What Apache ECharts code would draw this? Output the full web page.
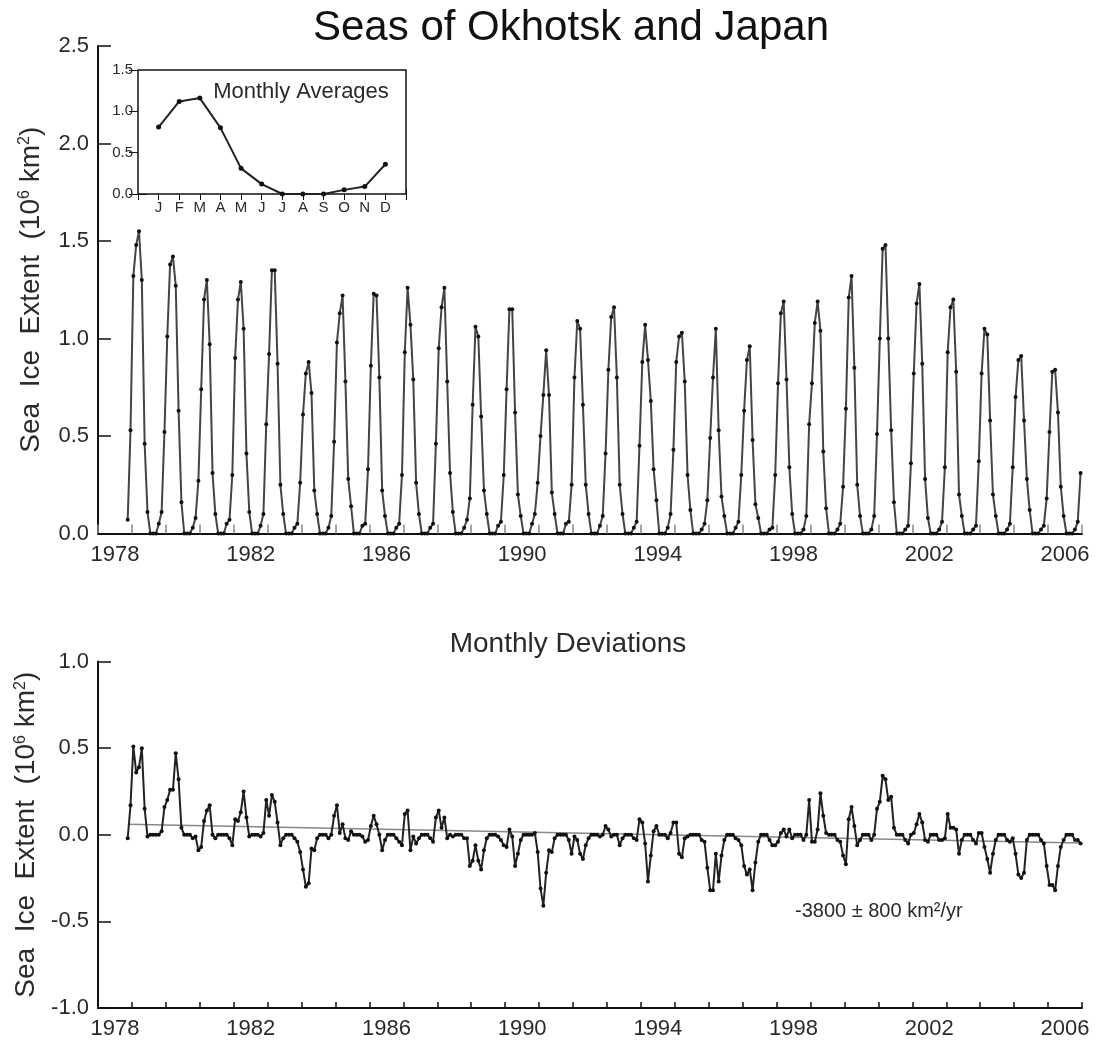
<!DOCTYPE html>
<html><head><meta charset="utf-8">
<script src="https://cdn.jsdelivr.net/npm/echarts@6/dist/echarts.min.js"></script>
<style>html,body{margin:0;padding:0;background:#fff}#c{width:1096px;height:1042px}</style>
</head><body><div id="c"></div>
<script>
// ---------- data ----------
const years = ['1978','1979','1980','1981','1982','1983','1984','1985','1986','1987','1988','1989','1990','1991','1992','1993','1994','1995','1996','1997','1998','1999','2000','2001','2002','2003','2004','2005','2006'];
const startYear = 1978, startMonth = 10; // first value = Nov 1978
const extent = [
 0.07,0.53,
 1.32,1.48,1.55,1.30,0.46,0.11,0,0,0,0.05,0.11,0.52,
 1.01,1.38,1.42,1.27,0.63,0.16,0,0,0,0.03,0.08,0.27,
 0.74,1.20,1.30,0.97,0.31,0.10,0,0,0,0.05,0.07,0.30,
 0.90,1.20,1.29,1.05,0.41,0.11,0,0,0,0.04,0.10,0.56,
 0.92,1.35,1.35,0.87,0.25,0.10,0,0,0,0.03,0.05,0.26,
 0.61,0.82,0.88,0.72,0.22,0.10,0,0,0,0.03,0.09,0.47,
 0.98,1.13,1.22,0.78,0.28,0.14,0,0,0,0.04,0.05,0.33,
 0.86,1.23,1.22,0.80,0.22,0.09,0,0,0,0.03,0.05,0.30,
 0.93,1.26,1.07,0.79,0.26,0.10,0,0,0,0.03,0.05,0.46,
 0.95,1.16,1.26,0.78,0.31,0.11,0,0,0,0.03,0.07,0.18,
 0.66,1.06,1.01,0.60,0.22,0.10,0,0,0,0.04,0.06,0.30,
 0.74,1.15,1.15,0.62,0.20,0.09,0,0,0,0.05,0.10,0.26,
 0.50,0.71,0.94,0.71,0.21,0.10,0,0,0,0.05,0.06,0.25,
 0.80,1.09,1.05,0.66,0.25,0.10,0,0,0,0.04,0.09,0.41,
 0.84,1.11,1.16,0.80,0.25,0.10,0,0,0,0.03,0.06,0.45,
 0.88,1.07,0.89,0.68,0.33,0.17,0,0,0,0.03,0.10,0.43,
 0.88,1.01,1.03,0.78,0.30,0.12,0,0,0,0.02,0.05,0.17,
 0.49,0.80,1.05,0.53,0.19,0.09,0,0,0,0.03,0.06,0.30,
 0.63,0.89,0.96,0.48,0.15,0.08,0,0,0,0.02,0.03,0.30,
 0.77,1.13,1.19,0.79,0.34,0.10,0,0,0,0.02,0.09,0.56,
 0.77,1.08,1.19,1.04,0.42,0.13,0,0,0,0.02,0.05,0.24,
 0.64,1.21,1.32,0.85,0.25,0.09,0,0,0,0.02,0.09,0.51,
 1.00,1.46,1.48,1.00,0.53,0.16,0,0,0,0.02,0.04,0.36,
 0.82,1.18,1.28,0.87,0.28,0.08,0,0,0,0.02,0.06,0.34,
 0.93,1.16,1.20,0.83,0.20,0.09,0,0,0,0.02,0.04,0.37,
 0.82,1.05,1.02,0.58,0.20,0.09,0,0,0,0.02,0.05,0.34,
 0.70,0.89,0.91,0.58,0.28,0.12,0,0,0,0.02,0.04,0.18,
 0.52,0.83,0.84,0.62,0.24,0.09,0,0,0,0.02,0.06,0.31
];
const deviation = [
 -0.02,0.17,
 0.51,0.36,0.39,0.50,0.15,-0.01,0,0,0,0.00,0.02,0.16,
 0.20,0.26,0.26,0.47,0.32,0.04,0,0,0,-0.02,-0.01,-0.09,
 -0.07,0.08,0.14,0.17,0.00,-0.02,0,0,0,0.00,-0.02,-0.06,
 0.09,0.08,0.13,0.25,0.10,-0.01,0,0,0,-0.01,0.01,0.20,
 0.11,0.23,0.19,0.07,-0.06,-0.02,0,0,0,-0.02,-0.04,-0.10,
 -0.20,-0.30,-0.28,-0.08,-0.09,-0.02,0,0,0,-0.02,0.00,0.11,
 0.17,0.01,0.06,-0.02,-0.03,0.02,0,0,0,-0.01,-0.04,-0.03,
 0.05,0.11,0.06,0.00,-0.09,-0.03,0,0,0,-0.02,-0.04,-0.06,
 0.12,0.14,-0.09,-0.01,-0.05,-0.02,0,0,0,-0.02,-0.04,0.10,
 0.14,0.04,0.10,-0.02,0.00,-0.01,0,0,0,-0.02,-0.02,-0.18,
 -0.15,-0.06,-0.15,-0.20,-0.09,-0.02,0,0,0,-0.01,-0.03,-0.06,
 -0.07,0.03,-0.01,-0.18,-0.11,-0.03,0,0,0,0.00,0.01,-0.10,
 -0.31,-0.41,-0.22,-0.09,-0.10,-0.02,0,0,0,0.00,-0.03,-0.11,
 -0.01,-0.03,-0.11,-0.14,-0.06,-0.02,0,0,0,-0.01,0.00,0.05,
 0.03,-0.01,0.00,0.00,-0.06,-0.02,0,0,0,-0.02,-0.03,0.09,
 0.07,-0.05,-0.27,-0.12,0.02,0.05,0,0,0,-0.02,0.01,0.07,
 0.07,-0.11,-0.13,-0.02,-0.01,0.00,0,0,0,-0.03,-0.04,-0.19,
 -0.32,-0.32,-0.11,-0.27,-0.12,-0.03,0,0,0,-0.02,-0.03,-0.06,
 -0.18,-0.23,-0.20,-0.32,-0.16,-0.04,0,0,0,-0.03,-0.06,-0.06,
 -0.04,0.01,0.03,-0.01,0.03,-0.02,0,0,0,-0.03,0.00,0.20,
 -0.04,-0.04,0.03,0.24,0.11,0.01,0,0,0,-0.03,-0.04,-0.12,
 -0.17,0.09,0.16,0.05,-0.06,-0.03,0,0,0,-0.03,0.00,0.15,
 0.19,0.34,0.32,0.20,0.22,0.04,0,0,0,-0.03,-0.05,0.00,
 0.01,0.06,0.12,0.07,-0.03,-0.04,0,0,0,-0.03,-0.03,-0.02,
 0.12,0.04,0.04,0.03,-0.11,-0.03,0,0,0,-0.03,-0.05,0.01,
 0.01,-0.07,-0.14,-0.22,-0.11,-0.03,0,0,0,-0.03,-0.04,-0.02,
 -0.11,-0.23,-0.25,-0.22,-0.03,0.00,0,0,0,-0.03,-0.05,-0.18,
 -0.29,-0.29,-0.32,-0.18,-0.07,-0.03,0,0,0,-0.03,-0.03,-0.05
];
const monthLetters = ['J','F','M','A','M','J','J','A','S','O','N','D'];
const monthlyAvg = [0.81,1.12,1.16,0.80,0.31,0.12,0.00,0.00,0.00,0.05,0.09,0.36];
const trendStart = 0.060, trendEnd = -0.047;
const mainTitle = 'Seas of Okhotsk and Japan';
const insetTitle = 'Monthly Averages';
const devTitle = 'Monthly Deviations';
const trendLabel = '-3800 \u00B1 800 km\u00B2/yr';

// ---------- build ----------
function timeOf(i){ const m = startMonth + i; return startYear + Math.floor(m/12) + ((m%12)+0.5)/12; }
const extentData = extent.map((v,i)=>[timeOf(i), v]);
const devData = deviation.map((v,i)=>[timeOf(i), v]);
const trendData = [[timeOf(0), trendStart],[timeOf(deviation.length-1), trendEnd]];
const avgData = monthlyAvg.map((v,i)=>[i+1, v]);

const FONT = 'Liberation Sans, Arial, Helvetica, sans-serif';
const TXT = '#2a2a2a';
const yName = '{n|Sea  Ice  Extent  (10}{s|6}{n| km}{s|2}{n|)}';
const nameStyle = {fontFamily: FONT, fontSize: 28, color: TXT,
  rich: {n: {fontFamily: FONT, fontSize: 28, color: TXT}, s: {fontFamily: FONT, fontSize: 16, color: TXT, verticalAlign: 'top'}}};

function yearCatAxis(grid, tickLen, tickColor){
  return {type:'category', gridIndex:grid, data:years, boundaryGap:true, position:'bottom',
    axisLine:{show:true, onZero:false, lineStyle:{color:'#111', width:2}},
    axisTick:{show:true, inside:true, interval:0, length:tickLen, lineStyle:{color:tickColor, width:1.5}},
    axisLabel:{interval:3, fontFamily:FONT, fontSize:22, color:TXT, margin:10},
    splitLine:{show:false}};
}
function timeValAxis(grid){
  return {type:'value', gridIndex:grid, min:1978, max:2007, show:false, position:'bottom'};
}

const option = {
  animation:false,
  backgroundColor:'#fff',
  grid:[
    {left:98, top:46, width:984, height:487.5, outerBoundsMode:'none', containLabel:false},
    {left:138, top:70, width:268, height:124, show:true, borderColor:'#111', borderWidth:1.5, backgroundColor:'#fff', outerBoundsMode:'none', containLabel:false, z:5},
    {left:98, top:661.5, width:984, height:346.5, outerBoundsMode:'none', containLabel:false}
  ],
  xAxis:[
    timeValAxis(0),
    yearCatAxis(0, 9, '#888'),
    {type:'value', gridIndex:1, min:0, max:13, interval:1, position:'bottom',
      axisLine:{show:false}, axisTick:{show:true, inside:true, length:5, lineStyle:{color:'#111'}},
      axisLabel:{fontFamily:FONT, fontSize:15, color:TXT, margin:6,
        formatter:v=> (v>=1 && v<=12) ? monthLetters[v-1] : ''},
      splitLine:{show:false}},
    {type:'value', gridIndex:1, min:0, max:13, interval:1, position:'top',
      axisLine:{show:false}, axisTick:{show:true, inside:true, length:6, lineStyle:{color:'#111'}},
      axisLabel:{show:false}, splitLine:{show:false}},
    timeValAxis(2),
    yearCatAxis(2, 6, '#111')
  ],
  yAxis:[
    {type:'value', gridIndex:0, min:0, max:2.5, interval:0.5,
      axisLine:{show:true, lineStyle:{color:'#111', width:2}},
      axisTick:{show:true, inside:true, length:13, lineStyle:{color:'#111', width:1.5}},
      axisLabel:{fontFamily:FONT, fontSize:22, color:TXT, margin:9, formatter:v=>v.toFixed(1)},
      splitLine:{show:false},
      name:yName, nameLocation:'middle', nameGap:53, nameRotate:90, nameTextStyle:nameStyle},
    {type:'value', gridIndex:1, min:0, max:1.5, interval:0.5, position:'left',
      axisLine:{show:false}, axisTick:{show:true, inside:true, length:9, lineStyle:{color:'#111'}},
      axisLabel:{fontFamily:FONT, fontSize:15, color:TXT, margin:5, formatter:v=>v.toFixed(1)},
      splitLine:{show:false}},
    {type:'value', gridIndex:1, min:0, max:1.5, interval:0.5, position:'right',
      axisLine:{show:false}, axisTick:{show:true, inside:true, length:9, lineStyle:{color:'#111'}},
      axisLabel:{show:false}, splitLine:{show:false}},
    {type:'value', gridIndex:2, min:-1, max:1, interval:0.5,
      axisLine:{show:true, onZero:false, lineStyle:{color:'#111', width:2}},
      axisTick:{show:true, inside:true, length:13, lineStyle:{color:'#111', width:1.5}},
      axisLabel:{fontFamily:FONT, fontSize:22, color:TXT, margin:9, formatter:v=>v.toFixed(1)},
      splitLine:{show:false},
      name:yName, nameLocation:'middle', nameGap:53, nameRotate:90, nameTextStyle:nameStyle}
  ],
  series:[
    {type:'line', xAxisIndex:0, yAxisIndex:0, data:extentData, symbol:'circle', symbolSize:4,
      lineStyle:{color:'#444', width:2}, itemStyle:{color:'#111'}, z:3},
    {type:'line', xAxisIndex:2, yAxisIndex:1, data:avgData, symbol:'circle', symbolSize:5,
      lineStyle:{color:'#222', width:2}, itemStyle:{color:'#111'}, z:6},
    {type:'line', xAxisIndex:4, yAxisIndex:3, data:trendData, symbol:'none',
      lineStyle:{color:'#888', width:1.5}, z:2},
    {type:'line', xAxisIndex:4, yAxisIndex:3, data:devData, symbol:'circle', symbolSize:4,
      lineStyle:{color:'#222', width:2}, itemStyle:{color:'#111'}, z:3}
  ],
  graphic:[
    {type:'text', x:571, y:28, z:10, style:{text:mainTitle, fontFamily:FONT, fontSize:42, fill:'#111', textAlign:'center', textVerticalAlign:'middle'}},
    {type:'text', x:301, y:92, z:10, style:{text:insetTitle, fontFamily:FONT, fontSize:22, fill:TXT, textAlign:'center', textVerticalAlign:'middle'}},
    {type:'text', x:568, y:644, z:10, style:{text:devTitle, fontFamily:FONT, fontSize:28, fill:TXT, textAlign:'center', textVerticalAlign:'middle'}},
    {type:'text', x:795, y:911, z:10, style:{text:trendLabel, fontFamily:FONT, fontSize:20, fill:TXT, textAlign:'left', textVerticalAlign:'middle'}}
  ]
};
const chart = echarts.init(document.getElementById('c'), null, {renderer:'canvas'});
chart.setOption(option);
</script>
</body></html>
